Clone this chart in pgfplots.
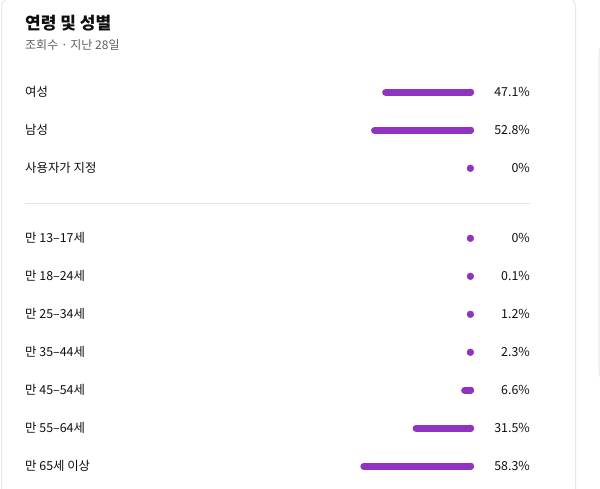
\documentclass[border=0pt]{standalone}
\usepackage{fontspec}
\setmainfont{Noto Sans CJK KR}
\usepackage{pgfplots}
\pgfplotsset{compat=1.18}
\definecolor{barpurple}{HTML}{9032C2}
\definecolor{txt}{HTML}{0F0F0F}
\definecolor{subgray}{HTML}{606060}
\definecolor{sepgray}{HTML}{E5E5E5}
\definecolor{cardgray}{HTML}{E8E8E8}
\begin{document}
\begin{tikzpicture}
\useasboundingbox (0pt,0pt) rectangle (600pt,-488pt);
\clip (0pt,0pt) rectangle (600pt,-488pt);
\fill[white] (0pt,0pt) rectangle (600pt,-488pt);
% cards
\draw[cardgray, line width=1pt, rounded corners=7pt] (1.5pt,1pt) rectangle (575.5pt,-520pt);
\draw[cardgray, line width=1pt, rounded corners=7pt] (599pt,-45pt) rectangle (650pt,-380pt);
\begin{axis}[
  at={(0pt,0pt)}, anchor=north west,
  scale only axis, width=600pt, height=488pt,
  xmin=-64.615, xmax=243.077, x dir=reverse,
  ymin=0, ymax=488, y dir=reverse,
  hide axis, clip=false,
  pbar/.style={color=barpurple, no markers, line width=7.2pt, line cap=round, shorten <=3.6pt, shorten >=3.6pt},
]
% bars long enough to show as bars
\addplot[pbar] coordinates {(0,92.3) (47.1,92.3)};
\addplot[pbar] coordinates {(0,130.3) (52.8,130.3)};
\addplot[pbar] coordinates {(0,390.3) (6.6,390.3)};
\addplot[pbar] coordinates {(0,428.3) (31.5,428.3)};
\addplot[pbar] coordinates {(0,466.3) (58.3,466.3)};
% minimum-size dots at the right end of every row
\addplot[color=barpurple, only marks, mark=*, mark size=3.4pt,
  mark options={xshift=-3.6pt, solid, draw=barpurple, fill=barpurple, line width=0.4pt}]
  coordinates {(0,92.3) (0,130.3) (0,168.3) (0,238.3) (0,276.3) (0,314.3) (0,352.3) (0,390.3) (0,428.3) (0,466.3)};
\end{axis}
% title
\node[anchor=west, inner sep=0pt, text=txt, font=\fontsize{17}{20}\selectfont\bfseries] at (25pt,-23pt) {연령 및 성별};
\node[anchor=west, inner sep=0pt, text=subgray, font=\fontsize{12}{14}\selectfont] at (25pt,-45.5pt) {조회수 · 지난 28일};
% separator
\draw[sepgray, line width=1.5pt] (25pt,-203.5pt) -- (530pt,-203.5pt);
% row labels
\foreach \y/\t in {92.3/여성, 130.3/남성, 168.3/사용자가 지정, 238.3/만 13–17세, 276.3/만 18–24세, 314.3/만 25–34세, 352.3/만 35–44세, 390.3/만 45–54세, 428.3/만 55–64세, 466.3/만 65세 이상}
  \node[anchor=west, inner sep=0pt, text=txt, font=\fontsize{12.4}{14}\selectfont] at (25pt,-\y pt) {\t};
\foreach \y/\t in {92.3/47.1\%, 130.3/52.8\%, 168.3/0\%, 238.3/0\%, 276.3/0.1\%, 314.3/1.2\%, 352.3/2.3\%, 390.3/6.6\%, 428.3/31.5\%, 466.3/58.3\%}
  \node[anchor=east, inner sep=0pt, text=txt, font=\fontsize{12.4}{14}\selectfont] at (530pt,-\y pt) {\t};
\end{tikzpicture}
\end{document}
